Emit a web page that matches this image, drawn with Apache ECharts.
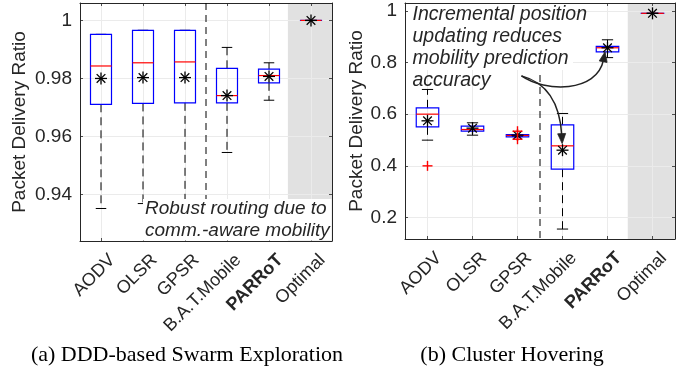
<!DOCTYPE html>
<html><head><meta charset="utf-8">
<script src="https://cdn.jsdelivr.net/npm/echarts@6/dist/echarts.min.js"></script>
<style>html,body{margin:0;padding:0;background:#fff}#c{width:691px;height:377px}</style>
</head><body><div id="c"></div>
<script>
// ---------- DATA ----------
const categories = ['AODV', 'OLSR', 'GPSR', 'B.A.T.Mobile', 'PARRoT', 'Optimal'];

// (a) DDD-based Swarm Exploration
const swarmLow    = [0.9352, 0.9369, 0.9369, 0.9545, 0.9725, 1.0];
const swarmQ1     = [0.9711, 0.9714, 0.9716, 0.9716, 0.9785, 1.0];
const swarmMedian = [0.9843, 0.9854, 0.9857, 0.9741, 0.9810, 1.0];
const swarmQ3     = [0.9952, 0.9966, 0.9966, 0.9835, 0.9832, 1.0];
const swarmHigh   = [0.9952, 0.9966, 0.9966, 0.9907, 0.9854, 1.0];
const swarmMean   = [0.9800, 0.9803, 0.9803, 0.9741, 0.9807, 1.0];
const swarmOutliers = [];
const swarmYRange = [0.924, 1.006];

// (b) Cluster Hovering
const hoverLow    = [0.4994, 0.5187, 0.5135, 0.1555, 0.8187, 0.99];
const hoverQ1     = [0.5510, 0.5342, 0.5123, 0.3871, 0.8413, 0.99];
const hoverMedian = [0.6000, 0.5406, 0.5174, 0.4774, 0.8568, 0.99];
const hoverQ3     = [0.6245, 0.5535, 0.5213, 0.5587, 0.8619, 0.99];
const hoverHigh   = [0.6955, 0.5665, 0.5213, 0.6026, 0.8877, 0.99];
const hoverMean   = [0.5742, 0.5458, 0.5187, 0.4606, 0.8568, 0.99];
const hoverOutliers = [[1, 0.400], [3, 0.534], [3, 0.503]];
const hoverYRange = [0.117, 1.03];

const xRange = [0.5, 6.5];
const separatorX = [3.5];
const shadeFrom = [5.45];

// annotation arrows (data coords of right chart): start, control1, control2, end
const arrowParrot = [[3.088, 0.748], [3.607, 0.685], [4.767, 0.681], [4.946, 0.841]];
const arrowBat    = [[3.088, 0.748], [3.607, 0.724], [3.942, 0.654], [3.993, 0.486]];

// ---------- STYLE ----------
const FONT = '"Liberation Sans", Arial, Helvetica, sans-serif';
const SERIF = '"Liberation Serif", "Times New Roman", serif';
const AX = '#262626';
const GRIDC = '#ebebeb';
const SHADE = '#e1e1e1';

const chart = echarts.init(document.getElementById('c'), null, {renderer: 'canvas'});

function xLabelFmt(v) {
  if (Math.abs(v - Math.round(v)) > 1e-6) return '';
  const i = Math.round(v) - 1;
  if (i < 0 || i >= categories.length) return '';
  return categories[i] === 'PARRoT' ? '{b|PARRoT}' : categories[i];
}

const frameLine = {show: true, onZero: false, lineStyle: {color: AX, width: 1}};
const tickIn = {show: true, inside: true, length: 3, lineStyle: {color: AX, width: 0.8}};

function makeAxes(g, yr, yFmt, nameGap) {
  const xs = [{
    type: 'value', gridIndex: g, min: xRange[0], max: xRange[1], splitNumber: 6,
    axisLine: frameLine, axisTick: tickIn,
    splitLine: {show: true, lineStyle: {color: GRIDC, width: 1}},
    axisLabel: {
      show: true, rotate: 45, align: 'right', verticalAlign: 'top', margin: 5, padding: [7, 0, 0, 0],
      showMinLabel: false, showMaxLabel: false,
      fontFamily: FONT, fontSize: 18, color: AX, formatter: xLabelFmt,
      rich: {b: {fontFamily: FONT, fontSize: 18, fontWeight: 'bold', color: AX}}
    }
  }, {
    type: 'value', gridIndex: g, position: 'top', min: xRange[0], max: xRange[1], splitNumber: 6,
    axisLine: frameLine, axisLabel: {show: false}, splitLine: {show: false}, axisTick: tickIn
  }];
  const ys = [{
    type: 'value', gridIndex: g, min: yr[0], max: yr[1],
    name: 'Packet Delivery Ratio', nameLocation: 'middle', nameGap: nameGap,
    nameTextStyle: {fontFamily: FONT, fontSize: 19, color: AX},
    axisLine: frameLine, axisTick: tickIn,
    splitLine: {show: true, lineStyle: {color: GRIDC, width: 1}},
    axisLabel: {fontFamily: FONT, fontSize: 19, color: AX, margin: 8, showMinLabel: false, showMaxLabel: false, formatter: yFmt}
  }, {
    type: 'value', gridIndex: g, position: 'right', min: yr[0], max: yr[1],
    axisLine: frameLine, axisLabel: {show: false}, splitLine: {show: false}, axisTick: tickIn
  }];
  return {xs, ys};
}

function boxSeries(xi, yi, low, q1, med, q3, high, mean) {
  const data = categories.map((c, i) => [i + 1, low[i], q1[i], med[i], q3[i], high[i], mean[i]]);
  return {
    type: 'custom', xAxisIndex: xi, yAxisIndex: yi, z: 5, silent: true,
    dimensions: ['x', 'lo', 'q1', 'md', 'q3', 'hi', 'mn'],
    encode: {x: 0, y: [1, 2, 3, 4, 5, 6]},
    data: data,
    renderItem: function (params, api) {
      const x = api.value(0), lo = api.value(1), q1v = api.value(2), md = api.value(3),
            q3v = api.value(4), hi = api.value(5), mn = api.value(6);
      const half = 0.25, capHalf = 0.125;
      const pLo = api.coord([x, lo]), pHi = api.coord([x, hi]);
      const pQ1 = api.coord([x, q1v]), pQ3 = api.coord([x, q3v]);
      const bl = api.coord([x - half, q3v]), br = api.coord([x + half, q1v]);
      const cl = api.coord([x - capHalf, lo])[0], cr = api.coord([x + capHalf, lo])[0];
      const pm = api.coord([x, md]), pmn = api.coord([x, mn]);
      const ch = [];
      const dash = {stroke: '#000', lineWidth: 1, lineDash: [8, 5]};
      if (pLo[1] - pQ1[1] > 0.5) ch.push({type: 'line', shape: {x1: pQ1[0], y1: pQ1[1], x2: pLo[0], y2: pLo[1]}, style: dash});
      if (pQ3[1] - pHi[1] > 0.5) ch.push({type: 'line', shape: {x1: pQ3[0], y1: pQ3[1], x2: pHi[0], y2: pHi[1]}, style: dash});
      const cap = {stroke: '#000', lineWidth: 1};
      ch.push({type: 'line', shape: {x1: cl, y1: pLo[1], x2: cr, y2: pLo[1]}, style: cap});
      ch.push({type: 'line', shape: {x1: cl, y1: pHi[1], x2: cr, y2: pHi[1]}, style: cap});
      ch.push({type: 'rect', shape: {x: bl[0], y: bl[1], width: br[0] - bl[0], height: Math.max(br[1] - bl[1], 0.01)},
               style: {stroke: '#0000ff', fill: null, lineWidth: 1.2}});
      ch.push({type: 'line', shape: {x1: bl[0], y1: pm[1], x2: br[0], y2: pm[1]}, style: {stroke: '#ff0000', lineWidth: 1.2}});
      const s = 6, d = s * 0.72;
      const st = {stroke: '#000', lineWidth: 1.3};
      const cx = pmn[0], cy = pmn[1];
      ch.push({type: 'line', shape: {x1: cx - s, y1: cy, x2: cx + s, y2: cy}, style: st});
      ch.push({type: 'line', shape: {x1: cx, y1: cy - s, x2: cx, y2: cy + s}, style: st});
      ch.push({type: 'line', shape: {x1: cx - d, y1: cy - d, x2: cx + d, y2: cy + d}, style: st});
      ch.push({type: 'line', shape: {x1: cx - d, y1: cy + d, x2: cx + d, y2: cy - d}, style: st});
      return {type: 'group', children: ch};
    }
  };
}

function outlierSeries(xi, yi, pts) {
  return {
    type: 'custom', xAxisIndex: xi, yAxisIndex: yi, z: 6, silent: true,
    encode: {x: 0, y: 1}, data: pts,
    renderItem: function (params, api) {
      const p = api.coord([api.value(0), api.value(1)]);
      const s = 5;
      const st = {stroke: '#ff0000', lineWidth: 1.4};
      return {type: 'group', children: [
        {type: 'line', shape: {x1: p[0] - s, y1: p[1], x2: p[0] + s, y2: p[1]}, style: st},
        {type: 'line', shape: {x1: p[0], y1: p[1] - s, x2: p[0], y2: p[1] + s}, style: st}
      ]};
    }
  };
}

function shadeSeries(xi, yi, yr) {
  return {
    type: 'custom', xAxisIndex: xi, yAxisIndex: yi, z: -1, silent: true,
    encode: {x: 0}, data: [[shadeFrom[0], xRange[1]]],
    renderItem: function (params, api) {
      const a = api.coord([api.value(0), yr[1]]), b = api.coord([api.value(1), yr[0]]);
      return {type: 'rect', shape: {x: a[0], y: a[1], width: b[0] - a[0], height: b[1] - a[1]}, style: {fill: SHADE}};
    }
  };
}

function sepSeries(xi, yi, yr) {
  return {
    type: 'custom', xAxisIndex: xi, yAxisIndex: yi, z: 3, silent: true,
    encode: {x: 0}, data: [[separatorX[0]]],
    renderItem: function (params, api) {
      const a = api.coord([api.value(0), yr[1]]), b = api.coord([api.value(0), yr[0]]);
      return {type: 'line', shape: {x1: a[0], y1: a[1], x2: b[0], y2: b[1]}, style: {stroke: '#000', lineWidth: 1, lineDash: [7, 5]}};
    }
  };
}

function arrowSeries(xi, yi, arrows) {
  return {
    type: 'custom', xAxisIndex: xi, yAxisIndex: yi, z: 60, silent: true,
    encode: {x: [0, 2, 4, 6], y: [1, 3, 5, 7]},
    data: arrows.map(a => [a[0][0], a[0][1], a[1][0], a[1][1], a[2][0], a[2][1], a[3][0], a[3][1]]),
    renderItem: function (params, api) {
      const p = [0, 1, 2, 3].map(k => api.coord([api.value(2 * k), api.value(2 * k + 1)]));
      const tip = p[3];
      const dx = p[3][0] - p[2][0], dy = p[3][1] - p[2][1];
      const L = Math.hypot(dx, dy) || 1, ux = dx / L, uy = dy / L;
      const hl = 10, hw = 4;
      const base = [tip[0] - ux * hl, tip[1] - uy * hl];
      const endLine = [tip[0] - ux * (hl - 2), tip[1] - uy * (hl - 2)];
      return {type: 'group', children: [
        {type: 'bezierCurve', shape: {x1: p[0][0], y1: p[0][1], cpx1: p[1][0], cpy1: p[1][1], cpx2: p[2][0], cpy2: p[2][1], x2: endLine[0], y2: endLine[1]},
         style: {stroke: '#222', lineWidth: 1.5, fill: null}},
        {type: 'polygon', shape: {points: [tip, [base[0] - uy * hw, base[1] + ux * hw], [base[0] + uy * hw, base[1] - ux * hw]]},
         style: {fill: '#222', stroke: '#222', lineWidth: 0.8}}
      ]};
    }
  };
}

const fmtA = v => (Math.abs(v - 1) < 1e-9 ? '1' : v.toFixed(2));
const fmtB = v => (Math.abs(v - 1) < 1e-9 ? '1' : v.toFixed(1));
const A = makeAxes(0, swarmYRange, fmtA, 51);
const B = makeAxes(1, hoverYRange, fmtB, 39);

const option = {
  animation: false,
  backgroundColor: '#fff',
  grid: [
    {left: 80, top: 3, width: 252, height: 238, show: false},
    {left: 405, top: 3, width: 270, height: 236, show: false}
  ],
  xAxis: [A.xs[0], A.xs[1], B.xs[0], B.xs[1]],
  yAxis: [A.ys[0], A.ys[1], B.ys[0], B.ys[1]],
  series: [
    shadeSeries(0, 0, swarmYRange),
    sepSeries(0, 0, swarmYRange),
    boxSeries(0, 0, swarmLow, swarmQ1, swarmMedian, swarmQ3, swarmHigh, swarmMean),
    outlierSeries(0, 0, swarmOutliers),
    shadeSeries(2, 2, hoverYRange),
    sepSeries(2, 2, hoverYRange),
    boxSeries(2, 2, hoverLow, hoverQ1, hoverMedian, hoverQ3, hoverHigh, hoverMean),
    outlierSeries(2, 2, hoverOutliers),
    arrowSeries(2, 2, [arrowParrot, arrowBat])
  ],
  graphic: [
    {type: 'rect', z: 50, shape: {x: 143, y: 199, width: 188.5, height: 41.5}, style: {fill: '#fff'}},
    {type: 'text', z: 51, x: 145, y: 197.5, style: {text: 'Robust routing due to\ncomm.-aware mobility', font: 'italic 19px ' + FONT, fill: AX, lineHeight: 22, verticalAlign: 'top', align: 'left'}},
    {type: 'rect', z: 50, shape: {x: 408, y: 4, width: 165, height: 66}, style: {fill: '#fff'}},
    {type: 'text', z: 51, x: 412.5, y: 3.8, style: {text: 'Incremental position\nupdating reduces\nmobility prediction\naccuracy', font: 'italic 19.5px ' + FONT, fill: AX, lineHeight: 22, verticalAlign: 'top', align: 'left'}},
    {type: 'text', z: 51, x: 187, y: 355.5, style: {text: '(a) DDD-based Swarm Exploration', font: '22px ' + SERIF, fill: '#000', align: 'center', verticalAlign: 'middle'}},
    {type: 'text', z: 51, x: 512, y: 355.5, style: {text: '(b) Cluster Hovering', font: '22px ' + SERIF, fill: '#000', align: 'center', verticalAlign: 'middle'}}
  ]
};
chart.setOption(option);
</script>
</body></html>
